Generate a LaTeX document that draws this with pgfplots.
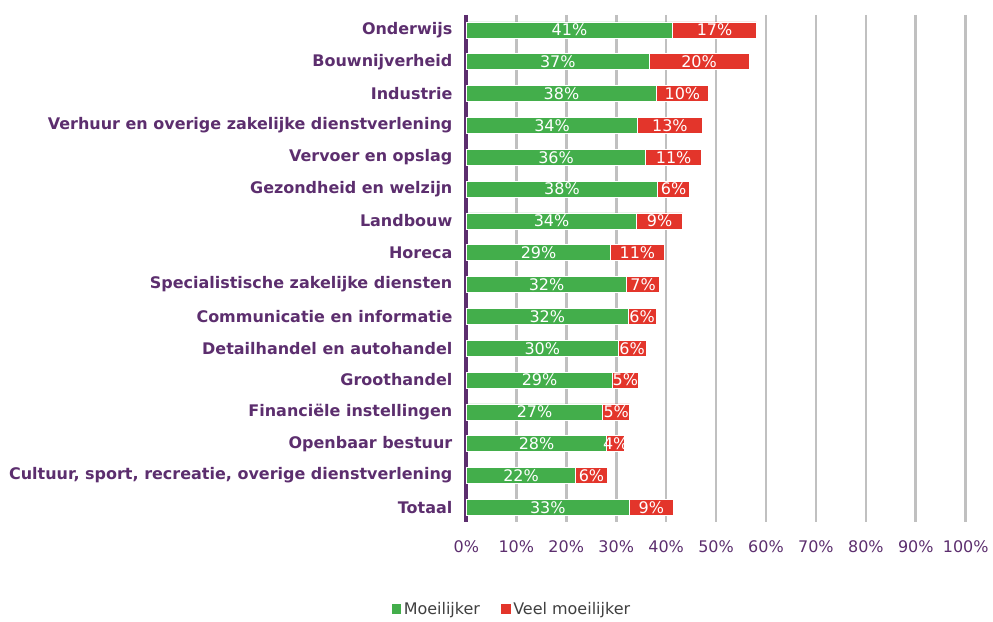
\documentclass[border=0pt]{standalone}
\usepackage{fontspec}
\setmainfont{DejaVu Sans}
\usepackage{pgfplots}
\usepackage{pgfplotstable}
\pgfplotsset{compat=1.18}
\definecolor{cgreen}{HTML}{43AE4B}
\definecolor{cred}{HTML}{E3352B}
\definecolor{cpurple}{HTML}{5C2E6E}
\definecolor{cgrid}{HTML}{C0C0C0}
\definecolor{ctext}{HTML}{404040}
\pgfplotstableread{
idx g r gl rl
0 41.3 16.8 41 17
1 36.6 20.0 37 20
2 38.1 10.3 38 10
3 34.3 12.9 34 13
4 35.9 11.2 36 11
5 38.3 6.4 38 6
6 34.1 9.2 34 9
7 28.9 10.7 29 11
8 32.1 6.6 32 7
9 32.4 5.6 32 6
10 30.4 5.6 30 6
11 29.3 5.1 29 5
12 27.3 5.4 27 5
13 28.1 3.6 28 4
14 21.9 6.3 22 6
15 32.6 8.9 33 9
}\data
\begin{document}
\begin{tikzpicture}
\begin{axis}[
  scale only axis, width=375pt, height=381pt,
  xbar stacked, bar width=12pt,
  xmin=0, xmax=100, ymin=-0.47, ymax=15.47, y dir=reverse,
  axis lines*=left,
  x axis line style={draw=none},
  y axis line style={draw=cpurple, line width=3pt},
  xtick={0,10,...,100},
  xticklabel={\pgfmathprintnumber{\tick}\%},
  /pgf/number format/assume math mode=true,
  xticklabel style={text=cpurple, font=\fontsize{12}{14}\selectfont, yshift=-10pt},
  ytick={0,...,15},
  yticklabels={Onderwijs, Bouwnijverheid, Industrie, Verhuur en overige zakelijke dienstverlening, Vervoer en opslag, Gezondheid en welzijn, Landbouw, Horeca, Specialistische zakelijke diensten, Communicatie en informatie, Detailhandel en autohandel, Groothandel, Financiële instellingen, Openbaar bestuur, {Cultuur, sport, recreatie, overige dienstverlening}, Totaal},
  yticklabel style={text=cpurple, font=\bfseries\fontsize{12}{14}\selectfont, xshift=-7pt},
  major tick length=0pt,
  xmajorgrids, major grid style={draw=cgrid, line width=2pt},
  clip=false,
  point meta=explicit symbolic,
  nodes near coords={\pgfplotspointmeta\%},
  every node near coord/.append style={text=white, font=\fontsize{12}{14}\selectfont, anchor=center},
  legend style={at={(0.092,-0.171)}, anchor=center, draw=none, legend columns=2, font=\fontsize{12}{14}\selectfont, text=ctext, /tikz/every even column/.append style={column sep=14pt}},
  legend image code/.code={\fill[#1,draw=none] (0pt,-3.5pt) rectangle (7pt,3.5pt);},
]
\addplot[fill=cgreen, draw=white, line width=0.5pt] table[x=g, y=idx, meta=gl]{\data};
\addplot[fill=cred, draw=white, line width=0.5pt] table[x=r, y=idx, meta=rl]{\data};
\legend{Moeilijker, Veel moeilijker}
\path (axis description cs:-0.934,1.0295) rectangle (axis description cs:1.052,-0.189);
\end{axis}
\end{tikzpicture}
\end{document}
